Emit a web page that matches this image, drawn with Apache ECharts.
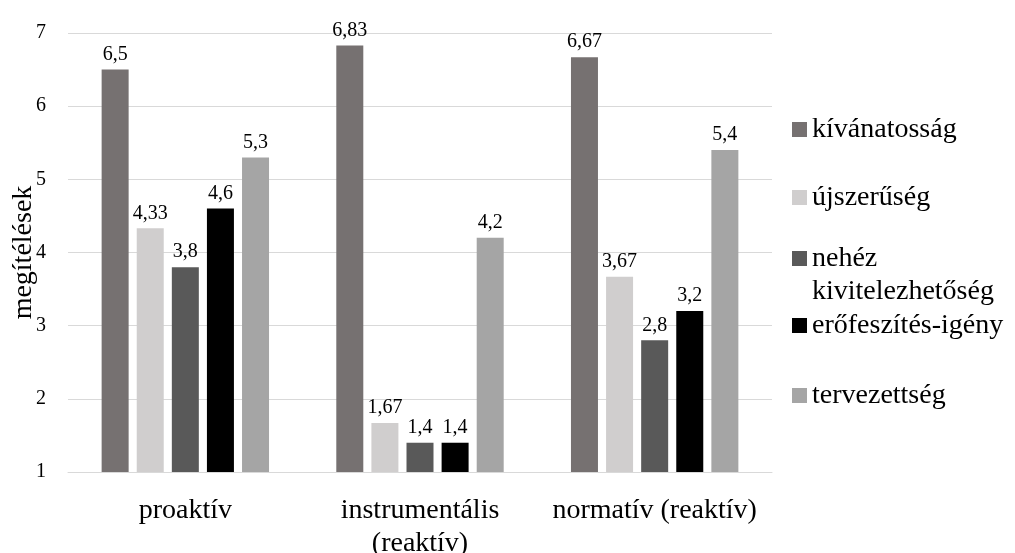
<!DOCTYPE html>
<html>
<head>
<meta charset="utf-8">
<script src="https://cdn.jsdelivr.net/npm/echarts@6/dist/echarts.min.js"></script>
<style>
  html, body { margin: 0; padding: 0; background: #fff; }
  #chart { width: 1015px; height: 553px; }
</style>
</head>
<body>
<div id="chart"></div>
<script>
  // kategóriák és sorozatok
  var categories = ['proaktív', 'instrumentális (reaktív)', 'normatív (reaktív)'];
  var seriesNames = ['kívánatosság', 'újszerűség', 'nehéz kivitelezhetőség', 'erőfeszítés-igény', 'tervezettség'];
  var kivanatossag = [6.5, 6.83, 6.67];
  var ujszeruseg = [4.33, 1.67, 3.67];
  var nehezKivitelezhetoseg = [3.8, 1.4, 2.8];
  var erofeszites = [4.6, 1.4, 3.2];
  var tervezettseg = [5.3, 4.2, 5.4];
  var yTicks = [1, 2, 3, 4, 5, 6, 7];

  var font = '"Liberation Serif", "Times New Roman", serif';
  var colors = ['#767171', '#d0cece', '#595959', '#000000', '#a5a5a5'];
  var values = [kivanatossag, ujszeruseg, nehezKivitelezhetoseg, erofeszites, tervezettseg];

  var myChart = echarts.init(document.getElementById('chart'));

  var series = seriesNames.map(function (name, i) {
    return {
      name: name,
      type: 'bar',
      barWidth: 27,
      barGap: '30%',
      data: values[i],
      itemStyle: { color: colors[i] },
      label: {
        show: true,
        position: 'top',
        distance: 5,
        color: '#000',
        fontFamily: font,
        fontSize: 20,
        formatter: function (p) {
          return String(p.value).replace('.', ',');
        }
      }
    };
  });

  // egy jelmagyarázat elemenként, hogy a függőleges helyük egyezzen
  var legendTops = [108, 176, 204, 304, 374];
  var legends = seriesNames.map(function (name, i) {
    var lg = {
      orient: 'vertical',
      left: 787,
      top: legendTops[i],
      itemWidth: 15,
      itemHeight: 15,
      icon: 'rect',
      data: [name],
      textStyle: {
        fontFamily: font,
        fontSize: 28,
        lineHeight: 33,
        color: '#000'
      }
    };
    if (name === 'nehéz kivitelezhetőség') {
      // üres első sor, hogy a négyzet a "nehéz" sorhoz igazodjon
      lg.formatter = function () { return '\nnehéz\nkivitelezhetőség'; };
    }
    return lg;
  });

  myChart.setOption({
    animation: false,
    color: colors,
    grid: {
      left: 68,
      right: 243,
      top: 33,
      bottom: 81,
      outerBoundsMode: 'none'
    },
    legend: legends,
    xAxis: {
      type: 'category',
      data: categories,
      axisLine: { lineStyle: { color: '#d9d9d9', width: 1 } },
      axisTick: { show: false },
      axisLabel: {
        interval: 0,
        color: '#000',
        fontFamily: font,
        fontSize: 28,
        lineHeight: 33,
        margin: 22,
        formatter: function (v) {
          return v.length > 20 ? v.replace(' ', '\n') : v;
        }
      }
    },
    yAxis: {
      type: 'value',
      min: yTicks[0],
      max: yTicks[yTicks.length - 1],
      interval: 1,
      name: 'megítélések',
      nameLocation: 'middle',
      nameRotate: 90,
      nameGap: 30,
      nameMoveOverlap: false,
      nameTextStyle: {
        color: '#000',
        fontFamily: font,
        fontSize: 28
      },
      axisLine: { show: false },
      axisTick: { show: false },
      splitLine: { lineStyle: { color: '#d9d9d9', width: 1 } },
      axisLabel: {
        color: '#000',
        fontFamily: font,
        fontSize: 20,
        margin: 22
      }
    },
    series: series
  });
</script>
</body>
</html>
